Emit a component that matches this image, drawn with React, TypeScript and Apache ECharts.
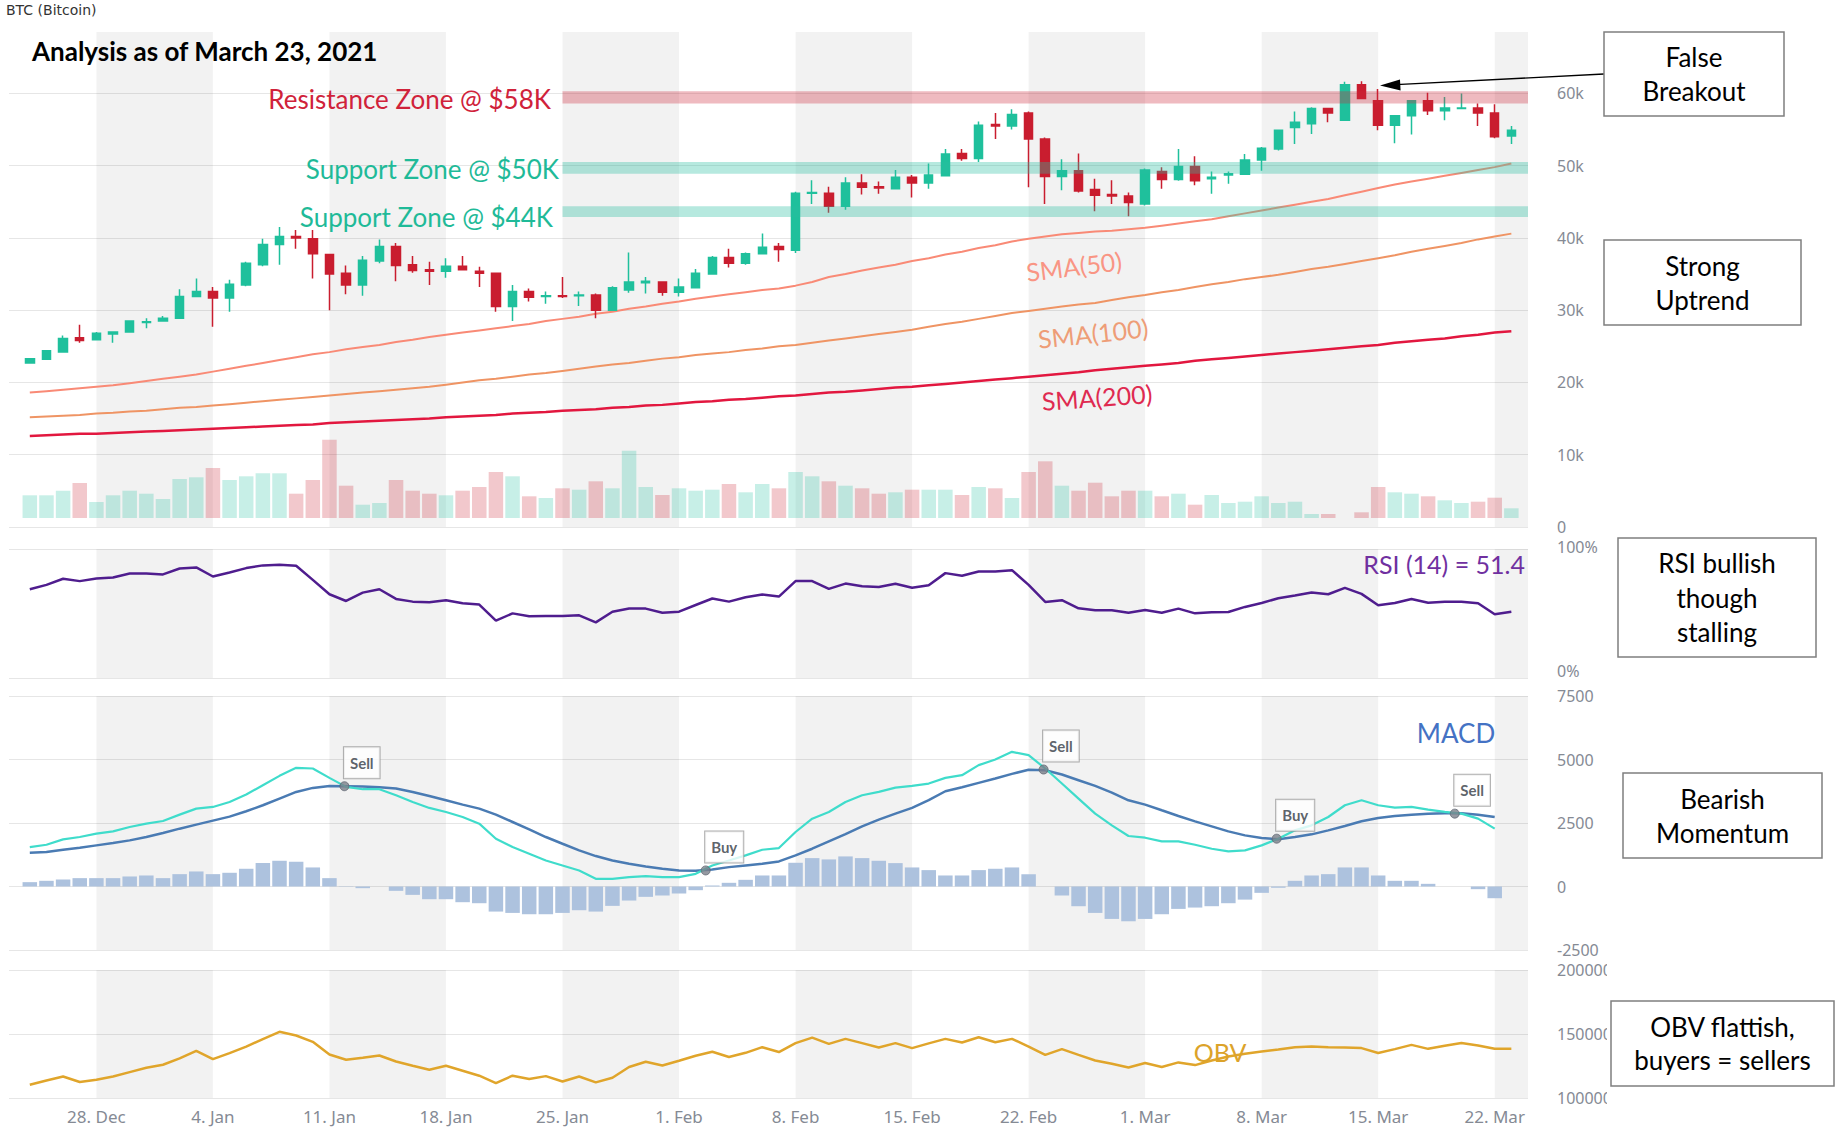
import React, { useEffect, useRef } from 'react';
import * as echarts from 'echarts';

// ---- Axis / calendar (day index 0 = 24 Dec 2020) ----
const tickDays = [4, 11, 18, 25, 32, 39, 46, 53, 60, 67, 74, 81, 88];
const tickLabels = ['28. Dec', '4. Jan', '11. Jan', '18. Jan', '25. Jan', '1. Feb', '8. Feb', '15. Feb', '22. Feb', '1. Mar', '8. Mar', '15. Mar', '22. Mar'];
const weekBands = [[4, 11], [18, 25], [32, 39], [46, 53], [60, 67], [74, 81], [88, 90]];

// ---- Price (k$) ----
const opens = [22.7,23.2,24.2,26.2,25.9,26.7,27.0,28.3,28.5,28.9, 31.9,32.6,31.7,33.5,36.3,39.1,40.2,39.9,37.7,35.1, 33.5,36.8,38.8,36.3,35.6,35.4,36.1,35.4,35.1,30.5, 32.6,31.9,32.0,32.0,32.1,30.0,32.8,33.8,33.9,32.5, 33.1,35.0,37.3,36.5,37.8,38.8,38.3,46.2,46.2,44.4, 47.6,47.1,46.8,48.4,47.6,48.6,51.7,51.0,55.7,55.5, 57.3,53.7,48.5,49.3,46.7,46.0,45.8,44.7,49.2,48.1, 49.9,48.2,48.7,48.8,50.8,52.3,55.3,55.8,57.9,56.3, 61.2,59.0,55.6,56.9,59.0,57.6,57.9,58.0,57.3,54.1];
const closes = [23.3,24.4,26.1,25.8,26.8,27.0,28.5,28.4,28.9,31.9, 32.6,31.7,33.6,36.5,39.1,40.2,40.0,37.8,35.0,33.5, 36.9,38.8,36.2,35.5,35.4,36.1,35.6,35.1,30.5,32.6, 31.8,32.0,31.9,32.1,30.0,33.1,33.9,34.0,32.5,33.2, 35.1,37.3,36.5,37.8,38.7,38.4,46.2,46.3,44.4,47.6, 47.0,46.9,48.4,47.6,48.7,51.6,51.0,55.6,55.5,57.1, 53.7,48.5,49.3,46.5,45.9,45.8,44.9,49.4,48.1,49.9, 47.9,48.4,48.9,50.8,52.4,54.9,56.0,57.9,57.3,61.2, 59.3,55.6,56.9,59.0,57.6,58.0,58.0,57.3,54.0,54.9];
const lows = [22.6,23.1,24.1,25.5,25.8,25.5,26.9,27.5,28.4,28.8, 31.8,27.7,29.8,33.3,36.1,36.3,38.5,34.4,30.0,32.2, 32.0,36.5,34.0,35.2,33.5,34.5,35.5,33.2,29.8,28.5, 31.2,30.9,31.7,30.6,28.9,29.9,32.4,32.3,32.0,31.9, 33.0,34.9,35.9,36.3,37.7,36.7,37.9,44.7,43.5,43.9, 46.0,46.1,46.7,45.6,46.8,48.5,50.7,50.5,53.7,55.0, 47.0,44.7,46.6,46.3,43.7,44.7,43.0,44.5,46.8,47.9, 47.3,46.1,47.5,48.7,49.3,52.1,53.0,54.4,56.0,56.2, 59.2,54.9,53.1,54.3,57.0,56.3,57.9,55.5,53.8,53.0];
const highs = [23.4,24.5,26.5,28.0,27.0,27.1,28.6,28.9,29.2,32.9, 34.4,33.2,34.2,36.7,39.9,41.5,41.1,41.1,37.8,36.2, 37.5,39.8,39.3,37.5,36.7,37.2,37.5,36.0,35.2,33.5, 33.0,32.6,34.6,32.6,32.3,33.3,38.0,34.6,34.0,34.4, 35.7,37.5,38.5,38.0,40.6,39.3,46.4,48.0,47.1,48.4, 48.8,47.8,49.4,48.7,50.3,52.3,52.3,56.1,57.3,57.8, 57.5,53.9,50.9,51.7,48.2,48.0,46.3,49.6,49.8,52.3, 51.3,49.2,49.2,51.6,52.6,55.0,57.5,58.1,58.0,61.6, 61.7,60.6,57.0,59.1,60.1,59.5,60.0,58.6,58.5,55.5];
const volumes = [22.7,22.7,27.3,35,16,22.7,27.3,24.3,19,39, 40.7,50,38,41.7,44.7,44.7,24.3,38,78.3,32.3, 13.3,15,38,27.3,24.3,22.7,27.3,31,46,41.7, 21.7,20,29.7,28.3,36.7,29.7,67.3,31,23,29.7, 27.3,28.3,34,25.7,34,29.7,46,41.7,36.7,32.3, 29.7,24.3,25.7,28.3,28.3,28.3,23,31,29.7,20, 46,56.7,32.3,27.3,35.3,21.7,27.3,27.3,21.7,24.3, 13.3,23,15,16.3,21.7,15,16.3,4,4,0, 5.7,31,25.7,24.3,21.7,17.7,15,16.3,20.3,9.7];

const sma50 = [18.6,18.8,19.0,19.2,19.4,19.6,19.9,20.2,20.5,20.8, 21.1,21.5,21.9,22.3,22.7,23.1,23.5,23.9,24.2,24.6, 24.9,25.2,25.6,25.9,26.3,26.6,26.9,27.2,27.5,27.8, 28.1,28.5,28.8,29.1,29.5,29.8,30.2,30.5,30.9,31.2, 31.6,31.9,32.2,32.5,32.8,33.0,33.4,33.9,34.6,35.0, 35.5,35.9,36.3,36.8,37.2,37.7,38.1,38.6,39.0,39.5, 39.9,40.2,40.5,40.7,40.9,41.0,41.2,41.4,41.7,42.0, 42.3,42.6,43.0,43.4,43.8,44.2,44.6,45.0,45.4,45.9, 46.4,46.9,47.4,47.8,48.2,48.6,49.0,49.4,49.8,50.3];
const sma100 = [15.2,15.3,15.4,15.5,15.7,15.8,16.0,16.1,16.3,16.5, 16.6,16.8,17.0,17.2,17.4,17.6,17.8,18.0,18.2,18.4, 18.6,18.8,19.0,19.2,19.4,19.7,20.0,20.3,20.5,20.8, 21.1,21.3,21.6,21.9,22.2,22.5,22.7,23.0,23.3,23.5, 23.8,24.0,24.2,24.5,24.7,25.0,25.2,25.5,25.8,26.1, 26.4,26.7,27.0,27.3,27.7,28.1,28.4,28.8,29.2,29.6, 29.9,30.2,30.5,30.8,31.0,31.4,31.8,32.1,32.5,32.8, 33.2,33.6,33.9,34.3,34.6,34.9,35.3,35.7,36.0,36.4, 36.8,37.2,37.6,38.1,38.5,38.9,39.3,39.8,40.2,40.6];
const sma200 = [12.6,12.7,12.8,12.9,12.9,13.0,13.1,13.2,13.3,13.4, 13.5,13.6,13.7,13.8,13.9,14.0,14.1,14.2,14.4,14.5, 14.6,14.7,14.8,14.9,15.0,15.2,15.3,15.4,15.5,15.7, 15.8,15.9,16.1,16.2,16.3,16.5,16.6,16.8,16.9,17.1, 17.3,17.4,17.6,17.7,17.9,18.1,18.2,18.4,18.6,18.7, 18.9,19.1,19.3,19.4,19.6,19.8,20.0,20.2,20.4,20.6, 20.8,21.0,21.2,21.4,21.7,21.9,22.1,22.3,22.5,22.7, 23.0,23.2,23.4,23.6,23.8,24.0,24.2,24.4,24.6,24.8, 25.0,25.2,25.5,25.7,25.9,26.1,26.4,26.6,26.9,27.1];

// Zones: [fromDay, toDay, low $, high $]
const zoneFrom = [32, 32, 32];
const zoneTo = [90, 90, 90];
const zoneLow = [58600, 48900, 42900];
const zoneHigh = [60300, 50500, 44400];

// ---- RSI ----
const rsiValues = [68.8,72.2,76.9,75.1,77.1,77.9,81.0,81.0,80.3,84.9, 85.7,78.7,81.8,85.2,87.3,87.8,87.0,76.1,64.9,59.7, 66.2,68.8,61.3,59.2,58.7,60.3,57.9,56.9,44.4,50.1, 47.8,48.1,48.1,48.6,43.1,51.4,53.8,53.8,50.6,51.4, 56.6,61.6,59.2,62.6,64.7,63.1,75.1,75.1,69.1,73.2, 71.2,70.6,73.0,69.9,71.9,81.3,79.2,82.6,82.6,83.6, 72.2,59.0,60.3,54.0,52.5,52.5,50.6,52.7,50.6,53.8, 50.1,50.9,51.2,55.1,58.2,61.8,63.9,66.2,64.9,69.9, 65.2,56.4,58.2,61.3,58.4,59.2,59.2,57.9,49.4,51.4];

// ---- MACD ----
const macdValues = [1553,1645,1856,1948,2079,2171,2342,2474,2579,2829, 3066,3132,3329,3619,3987,4356,4672,4645,4277,3922, 3830,3830,3593,3329,3093,2935,2737,2474,1882,1553, 1290,1026,829,632,303,303,368,408,368,368, 500,829,1026,1224,1448,1513,2145,2671,2935,3329, 3593,3724,3895,3961,4053,4277,4382,4777,5001,5303, 5172,4645,4053,3461,2869,2408,1987,1921,1777,1777, 1645,1487,1382,1421,1619,1882,2211,2408,2737,3198, 3395,3198,3106,3132,3027,2935,2869,2671,2277];
const signalValues = [1329,1355,1448,1527,1619,1711,1816,1948,2106,2277, 2435,2593,2750,2961,3198,3461,3724,3882,3961,3948, 3935,3909,3856,3724,3566,3395,3224,3066,2829,2540, 2250,1948,1684,1421,1198,1026,895,790,697,632, 619,671,763,830,895,987,1224,1487,1777,2066, 2369,2632,2869,3093,3400,3750,3909,4080,4251,4435, 4593,4580,4409,4185,3961,3698,3395,3224,3000,2777, 2566,2369,2171,2013,1908,1856,1948,2053,2211,2382, 2566,2698,2777,2829,2869,2882,2882,2829,2737];
const histValues = [171,224,276,329,329,329,395,434,329,487, 592,487,540,698,921,1013,974,750,329,13, -66,0,-171,-329,-500,-500,-618,-658,-987,-1040, -1092,-1092,-1040,-934,-987,-763,-553,-408,-355,-276, -145,40,145,263,434,434,934,1118,1066,1184, 1118,1013,921,750,645,434,434,645,698,750, 487,0,-355,-776,-1040,-1277,-1369,-1277,-1092,-882, -829,-776,-658,-516,-250,-50,224,434,487,750, 750,434,224,224,105,0,0,-105,-461];
const flagX = [18.9, 40.6, 60.9, 74.9, 85.6];
const flagY = [3948, 632, 4606, 1882, 2869];
const flagText = ['Sell', 'Buy', 'Sell', 'Buy', 'Sell'];

// ---- OBV (thousands) ----
const obvValues = [110.4,113.7,116.8,112.5,114.3,116.8,120.2,123.6,126.0,130.9, 136.9,130.4,135.1,140.2,146.0,151.7,148.8,143.9,134.0,129.9, 131.4,133.2,128.5,125.2,122.1,125.2,121.3,117.4,111.7,117.4, 114.8,117.1,112.9,116.8,112.2,115.8,124.2,128.3,125.4,129.1, 133.0,136.1,132.0,135.3,139.7,135.9,142.9,147.2,142.3,146.2, 142.9,139.5,142.9,139.0,142.7,146.2,143.4,147.5,143.6,146.2, 140.2,133.7,138.2,133.7,129.3,126.7,123.8,127.3,124.2,127.8, 125.7,129.3,132.4,134.5,136.3,137.9,139.7,140.2,139.7,139.5, 139.0,135.1,138.2,141.5,138.4,140.8,142.9,141.0,138.4,138.4];

const UP = '#1fc09c';
const DOWN = '#c91d2f';
const AXIS_FONT = 'Noto Sans';
const LABEL_COLOR = '#858a94';
const GRID_LINE = '#e6e6e6';

function buildOption() {
  const L = 9, W = 1519;
  const grids = [
    { left: L, top: 32, width: W, height: 495 },
    { left: L, top: 418, width: W, height: 100 },
    { left: L, top: 549, width: W, height: 129 },
    { left: L, top: 696, width: W, height: 254 },
    { left: L, top: 970, width: W, height: 128 },
  ].map((g) => ({ ...g, containLabel: false, outerBoundsMode: 'none', show: false }));

  const xAxes = [0, 1, 2, 3, 4].map((gi) => ({
    type: 'value', gridIndex: gi, min: -1.25, max: 90,
    axisLine: { show: false }, axisTick: { show: false }, splitLine: { show: false },
    axisLabel: gi === 4 ? {
      show: true, customValues: tickDays,
      formatter: (v: number) => { const i = tickDays.indexOf(v); return i >= 0 ? tickLabels[i] : ''; },
      color: LABEL_COLOR, fontSize: 17, fontFamily: AXIS_FONT, margin: 10,
    } : { show: false },
  }));

  const yLab = (fmt: (v: number) => string, pad: number[] = [0, 0, 5, 0], extra: any = {}) => ({
    color: LABEL_COLOR, fontSize: 16, fontFamily: AXIS_FONT, margin: 29, padding: pad, formatter: fmt, ...extra,
  });
  const yAxes = [
    {
      type: 'value', gridIndex: 0, position: 'right', min: 0, max: 68500, interval: 10000,
      axisLine: { show: false }, axisTick: { show: false },
      splitLine: { show: true, lineStyle: { color: [GRID_LINE, GRID_LINE, GRID_LINE, GRID_LINE, GRID_LINE, GRID_LINE, GRID_LINE, 'rgba(0,0,0,0)'], width: 1 } },
      axisLabel: yLab((v) => (v % 10000 !== 0 ? '' : v === 0 ? '0' : v / 1000 + 'k')),
    },
    { type: 'value', gridIndex: 1, min: 0, max: 100, show: false },
    {
      type: 'value', gridIndex: 2, position: 'right', min: 0, max: 100, interval: 100,
      axisLine: { show: false }, axisTick: { show: false },
      splitLine: { show: true, lineStyle: { color: GRID_LINE } },
      axisLabel: yLab((v) => (v === 0 ? '{lo|0%}' : '{hi|' + v + '%}'), [0, 0, 0, 0], {
        rich: {
          lo: { color: LABEL_COLOR, fontSize: 16, fontFamily: AXIS_FONT, padding: [0, 0, 14, 0] },
          hi: { color: LABEL_COLOR, fontSize: 16, fontFamily: AXIS_FONT, padding: [0, 0, 5, 0] },
        },
      }),
    },
    {
      type: 'value', gridIndex: 3, position: 'right', min: -2500, max: 7500, interval: 2500,
      axisLine: { show: false }, axisTick: { show: false },
      splitLine: { show: true, lineStyle: { color: GRID_LINE } },
      axisLabel: yLab((v) => String(v), [0, 0, 2, 0]),
    },
    {
      type: 'value', gridIndex: 4, position: 'right', min: 100000, max: 200000, interval: 50000,
      axisLine: { show: false }, axisTick: { show: false },
      splitLine: { show: true, lineStyle: { color: GRID_LINE } },
      axisLabel: yLab((v) => String(v)),
    },
  ];

  const bandSeries = (gi: number) => ({
    type: 'custom', xAxisIndex: gi, yAxisIndex: gi, z: 1, silent: true,
    data: weekBands,
    encode: { x: [0, 1] },
    renderItem: (params: any, api: any) => {
      const cs = params.coordSys;
      const x0 = api.coord([api.value(0), 0])[0];
      const x1 = api.coord([api.value(1), 0])[0];
      return { type: 'rect', shape: { x: x0, y: cs.y, width: x1 - x0, height: cs.height }, style: { fill: 'rgba(0,0,0,0.052)' } };
    },
  });

  const zoneColors = ['rgba(205,40,60,0.32)', 'rgba(40,190,160,0.34)', 'rgba(40,190,160,0.34)'];
  const days = opens.map((_, i) => i);

  const lineS = (gi: number, vals: number[], mult: number, color: string, width: number, z = 3) => ({
    type: 'line', xAxisIndex: gi, yAxisIndex: gi, z, silent: true,
    data: vals.map((v, i) => [i, v * mult]),
    showSymbol: false, symbol: 'none', smooth: false,
    lineStyle: { color, width },
  });

  const series: any[] = [
    bandSeries(0), bandSeries(2), bandSeries(3), bandSeries(4),
    {
      type: 'bar', xAxisIndex: 1, yAxisIndex: 1, z: 2, silent: true, barWidth: 14.5,
      data: volumes.map((v, i) => ({
        value: [i, v],
        itemStyle: { color: closes[i] >= opens[i] ? 'rgba(30,192,158,0.25)' : 'rgba(205,35,50,0.25)' },
      })),
    },
    lineS(0, sma200, 1000, '#e2173f', 2.5),
    lineS(0, sma100, 1000, '#ef9464', 2),
    lineS(0, sma50, 1000, '#f98a76', 2),
    {
      type: 'candlestick', xAxisIndex: 0, yAxisIndex: 0, z: 4, silent: true, barWidth: 9,
      encode: { x: 0, y: [1, 2, 3, 4] },
      data: days.map((i) => [i, opens[i] * 1000, closes[i] * 1000, lows[i] * 1000, highs[i] * 1000]),
      itemStyle: { color: UP, color0: DOWN, borderColor: UP, borderColor0: DOWN, borderWidth: 1.5 },
    },
    {
      type: 'custom', xAxisIndex: 0, yAxisIndex: 0, z: 5, silent: true,
      data: zoneFrom.map((f, i) => [f, zoneTo[i], zoneLow[i], zoneHigh[i]]),
      encode: { x: [0, 1], y: [2, 3] },
      renderItem: (params: any, api: any) => {
        const p1 = api.coord([api.value(0), api.value(3)]);
        const p2 = api.coord([api.value(1), api.value(2)]);
        return { type: 'rect', shape: { x: p1[0], y: p1[1], width: p2[0] - p1[0], height: p2[1] - p1[1] }, style: { fill: zoneColors[params.dataIndex] } };
      },
    },
    lineS(2, rsiValues, 1, '#4f1d8e', 2.5),
    {
      type: 'bar', xAxisIndex: 3, yAxisIndex: 3, z: 2, silent: true, barWidth: 14.5,
      data: histValues.map((v, i) => [i, v]),
      itemStyle: { color: '#adc2de' },
    },
    lineS(3, signalValues, 1, '#4a7bb3', 2.5),
    lineS(3, macdValues, 1, '#3fdccb', 2.2),
    {
      type: 'scatter', xAxisIndex: 3, yAxisIndex: 3, z: 6, silent: true,
      symbol: 'circle', symbolSize: 9,
      itemStyle: { color: '#7b8089', borderColor: '#626873', borderWidth: 1 },
      data: flagX.map((x, i) => ({ value: [x, flagY[i]], name: flagText[i] })),
      label: {
        show: true, formatter: '{b}', position: [4.5, -3], align: 'left', verticalAlign: 'bottom',
        backgroundColor: '#fff', borderColor: '#9a9a9a', borderWidth: 1, padding: [8, 6, 8, 6],
        fontSize: 15, fontWeight: 'bold', fontFamily: 'Lato', color: '#333a44',
      },
    },
    lineS(4, obvValues, 1000, '#e0a52b', 2.5),
  ];

  const txt = (x: number, y: number, text: string, fontSize: number, fill: string, align = 'left', extra: any = {}) => ({
    type: 'text', x, y, z: 100, silent: true, rotation: extra.rotation || 0,
    style: {
      text, fill, fontSize, fontFamily: 'Lato', fontWeight: extra.bold ? 'bold' : 'normal',
      align, verticalAlign: 'middle', textAlign: align, textVerticalAlign: 'middle',
    },
  });
  const box = (x: number, y: number, w: number, h: number, text: string, lineHeight: number) => ({
    type: 'group', z: 100, silent: true,
    children: [
      { type: 'rect', z: 100, shape: { x, y, width: w, height: h }, style: { fill: '#fff', stroke: '#7f7f7f', lineWidth: 1.5 } },
      {
        type: 'text', z: 101, x: x + w / 2, y: y + h / 2,
        style: { text, fill: '#000', fontSize: 26, fontFamily: 'Lato', align: 'center', verticalAlign: 'middle', textAlign: 'center', textVerticalAlign: 'middle', lineHeight },
      },
    ],
  });
  const deg = Math.PI / 180;

  const graphic = [
    { type: 'rect', z: 90, silent: true, shape: { x: 1607, y: 958, width: 236, height: 172 }, style: { fill: '#fff' } },
    {
      type: 'text', x: 6, y: 10, z: 100, silent: true,
      style: { text: 'BTC (Bitcoin)', fill: '#333', fontSize: 14, fontFamily: 'DejaVu Sans', align: 'left', verticalAlign: 'middle', textAlign: 'left', textVerticalAlign: 'middle' },
    },
    txt(32, 51, 'Analysis as of March 23, 2021', 26, '#000', 'left', { bold: true }),
    txt(551, 99, 'Resistance Zone @ $58K', 26, '#d0223a', 'right'),
    txt(559, 169, 'Support Zone @ $50K', 26, '#1fba98', 'right'),
    txt(553, 216.5, 'Support Zone @ $44K', 26, '#1fba98', 'right'),
    txt(1074, 266, 'SMA(50)', 25, '#f99584', 'center', { rotation: 7 * deg }),
    txt(1093, 333, 'SMA(100)', 25, '#ee9d77', 'center', { rotation: 6 * deg }),
    txt(1097, 397, 'SMA(200)', 25, '#df2a50', 'center', { rotation: 4 * deg }),
    txt(1525, 564, 'RSI (14) = 51.4', 25, '#7030a0', 'right'),
    txt(1456, 733, 'MACD', 26, '#4472c4', 'center'),
    txt(1220, 1052, 'OBV', 25, '#dca32a', 'center'),
    { type: 'line', z: 100, silent: true, shape: { x1: 1604, y1: 74, x2: 1396, y2: 84.7 }, style: { stroke: '#000', lineWidth: 1.3 } },
    { type: 'polygon', z: 100, silent: true, shape: { points: [[1380, 85.5], [1400, 79.5], [1400.6, 90.5]] }, style: { fill: '#000' } },
    box(1604, 32, 180, 84, 'False\nBreakout', 34),
    box(1604, 240, 197, 85, 'Strong\nUptrend', 34),
    box(1618, 538, 198, 119, 'RSI bullish\nthough\nstalling', 34.5),
    box(1623, 773, 199, 85, 'Bearish\nMomentum', 34),
    box(1611, 1001, 223, 85, 'OBV flattish,\nbuyers = sellers', 33),
  ];

  return {
    animation: false,
    backgroundColor: '#ffffff',
    grid: grids,
    xAxis: xAxes,
    yAxis: yAxes,
    series,
    graphic,
  };
}

export default function App() {
  const ref = useRef<HTMLDivElement>(null);
  useEffect(() => {
    const chart = echarts.init(ref.current as HTMLDivElement, null, { renderer: 'svg' });
    chart.setOption(buildOption() as any);
    return () => chart.dispose();
  }, []);
  return <div ref={ref} style={{ position: 'absolute', left: 0, top: 0, width: 1843, height: 1130, background: '#fff' }} />;
}
